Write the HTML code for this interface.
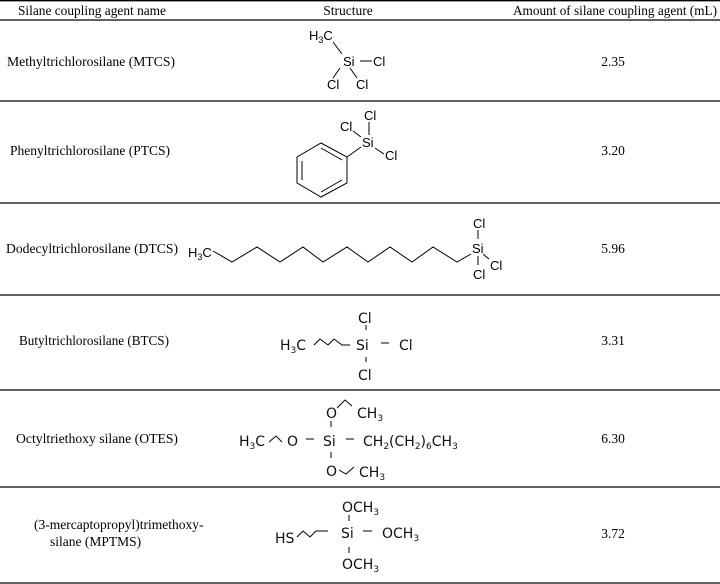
<!DOCTYPE html>
<html><head><meta charset="utf-8"><style>
html,body{margin:0;padding:0;background:#fff;}
svg{display:block;}
.n{font-family:"Liberation Serif",serif;font-size:13.5px;fill:#000;}
.s{font-family:"Liberation Sans",sans-serif;font-size:13px;fill:#000;}
.b{font-family:"DejaVu Sans","Liberation Sans",sans-serif;font-size:14px;fill:#111;}
.sub{font-size:9px;}
</style></head><body>
<svg width="720" height="584" viewBox="0 0 720 584" xmlns="http://www.w3.org/2000/svg">
<g stroke="#000" stroke-width="1.3">
<line x1="0" y1="0.7" x2="720" y2="0.7"/>
<line x1="0" y1="20" x2="720" y2="20"/>
<line x1="0" y1="101" x2="720" y2="101"/>
<line x1="0" y1="203" x2="720" y2="203"/>
<line x1="0" y1="295" x2="720" y2="295"/>
<line x1="0" y1="390" x2="720" y2="390"/>
<line x1="0" y1="487" x2="720" y2="487"/>
<line x1="0" y1="583" x2="720" y2="583"/>
</g>
<text class="n" x="18" y="15" textLength="148" lengthAdjust="spacingAndGlyphs">Silane coupling agent name</text>
<text class="n" x="348" y="15" text-anchor="middle">Structure</text>
<text class="n" x="513" y="15" textLength="204" lengthAdjust="spacingAndGlyphs">Amount of silane coupling agent (mL)</text>

<text class="n" x="7" y="66" textLength="168" lengthAdjust="spacingAndGlyphs">Methyltrichlorosilane  (MTCS)</text>
<text class="n" x="10" y="155" textLength="160" lengthAdjust="spacingAndGlyphs">Phenyltrichlorosilane (PTCS)</text>
<text class="n" x="6" y="253" textLength="172" lengthAdjust="spacingAndGlyphs">Dodecyltrichlorosilane (DTCS)</text>
<text class="n" x="19" y="345" textLength="150" lengthAdjust="spacingAndGlyphs">Butyltrichlorosilane (BTCS)</text>
<text class="n" x="16" y="443" textLength="162" lengthAdjust="spacingAndGlyphs">Octyltriethoxy silane (OTES)</text>
<text class="n" x="34" y="529">(3-mercaptopropyl)trimethoxy-</text>
<text class="n" x="50" y="546">silane (MPTMS)</text>

<g class="n" text-anchor="middle">
<text x="613" y="66">2.35</text>
<text x="613" y="155">3.20</text>
<text x="613" y="253">5.96</text>
<text x="613" y="345">3.31</text>
<text x="613" y="443">6.30</text>
<text x="613" y="538">3.72</text>
</g>

<g fill="none" stroke="#000" stroke-width="1">
<!-- MTCS -->
<line x1="333" y1="42" x2="342" y2="54"/>
<line x1="360" y1="61" x2="372" y2="61"/>
<line x1="340" y1="68" x2="333" y2="78"/>
<line x1="350" y1="68" x2="357" y2="78"/>
<!-- PTCS -->
<polygon points="321,143 347,157 347,183 321,197 297,183 297,157"/>
<line x1="302" y1="161" x2="302" y2="180"/>
<line x1="321" y1="192" x2="342" y2="180"/>
<line x1="321" y1="148" x2="342" y2="160"/>
<line x1="347" y1="157" x2="361" y2="147"/>
<line x1="369" y1="122" x2="369" y2="135"/>
<line x1="353" y1="131" x2="361" y2="137"/>
<line x1="375" y1="148" x2="384" y2="154"/>
<!-- DTCS -->
<polyline points="213,251 232,262 257,247 280,262 303,247 323,262 347,247 368,262 390,247 412,262 433,247 457,262 471,254"/>
<line x1="478" y1="230" x2="478" y2="239"/>
<line x1="483" y1="254" x2="489" y2="259"/>
<line x1="478" y1="256" x2="478" y2="265"/>
<!-- BTCS -->
<polyline points="314,345 320,339 328,345 334,339 342,345 350,345"/>
<line x1="366" y1="325" x2="366" y2="330"/>
<line x1="381" y1="343" x2="389" y2="343"/>
<line x1="366" y1="357" x2="366" y2="362"/>
<!-- OTES -->
<polyline points="337,408 345,400 352,406"/>
<line x1="331" y1="421" x2="331" y2="427"/>
<polyline points="269,442 276,436 282,442"/>
<line x1="306" y1="439" x2="314" y2="439"/>
<line x1="346" y1="439" x2="354" y2="439"/>
<line x1="331" y1="452" x2="331" y2="458"/>
<polyline points="339,470 346,474 354,467"/>
<!-- MPTMS -->
<polyline points="297,537 303,531 310,537 316,531 328,531"/>
<line x1="349" y1="515" x2="349" y2="521"/>
<line x1="363" y1="531" x2="372" y2="531"/>
<line x1="349" y1="547" x2="349" y2="553"/>
</g>

<g class="s">
<text x="309" y="40">H<tspan class="sub" dy="3">3</tspan><tspan dy="-3">C</tspan></text>
<text x="343" y="66">Si</text>
<text x="373" y="66">Cl</text>
<text x="327" y="89">Cl</text>
<text x="356" y="89">Cl</text>

<text x="364" y="120">Cl</text>
<text x="340" y="131">Cl</text>
<text x="362" y="147">Si</text>
<text x="385" y="160">Cl</text>

<text x="188" y="257">H<tspan class="sub" dy="3">3</tspan><tspan dy="-3">C</tspan></text>
<text x="473" y="228">Cl</text>
<text x="472" y="253">Si</text>
<text x="490" y="270">Cl</text>
<text x="473" y="279">Cl</text>
</g>

<g class="b">
<text x="280" y="350">H<tspan class="sub" dy="3">3</tspan><tspan dy="-3">C</tspan></text>
<text x="358" y="323">Cl</text>
<text x="356" y="350">Si</text>
<text x="399" y="350">Cl</text>
<text x="358" y="380">Cl</text>

<text x="326" y="418">O</text>
<text x="357" y="418">CH<tspan class="sub" dy="3">3</tspan></text>
<text x="239" y="446">H<tspan class="sub" dy="3">3</tspan><tspan dy="-3">C</tspan></text>
<text x="287" y="446">O</text>
<text x="323" y="446">Si</text>
<text x="363" y="446">CH<tspan class="sub" dy="3">2</tspan><tspan dy="-3">(CH</tspan><tspan class="sub" dy="3">2</tspan><tspan dy="-3">)</tspan><tspan class="sub" dy="3">6</tspan><tspan dy="-3">CH</tspan><tspan class="sub" dy="3">3</tspan></text>
<text x="326" y="476">O</text>
<text x="359" y="477">CH<tspan class="sub" dy="3">3</tspan></text>

<text x="342" y="512">OCH<tspan class="sub" dy="3">3</tspan></text>
<text x="275" y="543">HS</text>
<text x="341" y="538">Si</text>
<text x="382" y="538">OCH<tspan class="sub" dy="3">3</tspan></text>
<text x="342" y="569">OCH<tspan class="sub" dy="3">3</tspan></text>
</g>
</svg>
</body></html>
